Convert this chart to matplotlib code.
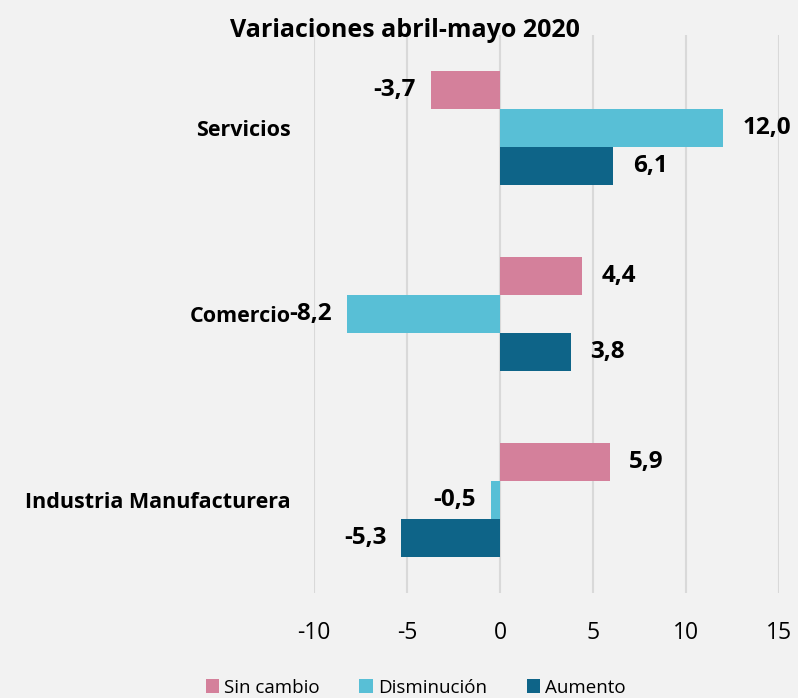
import matplotlib.pyplot as plt
import numpy as np

# Data
categories = ["Servicios", "Comercio", "Industria Manufacturera"]
series_names = ["Sin cambio", "Disminución", "Aumento"]
sin_cambio = [-3.7, 4.4, 5.9]
disminucion = [12.0, -8.2, -0.5]
aumento = [6.1, 3.8, -5.3]
x_ticks = [-10, -5, 0, 5, 10, 15]

colors = ["#d4809b", "#58bfd6", "#0e6488"]
bg = "#f2f2f2"

plt.rcParams["font.family"] = ["Open Sans", "DejaVu Sans"]

fig = plt.figure(figsize=(7.98, 6.98), dpi=100, facecolor=bg)
ax = fig.add_axes([314 / 798, 1 - 593 / 698, 465 / 798, 558 / 698])
ax.set_facecolor(bg)

y = np.arange(len(categories))
h = 0.205
offsets = [-h, 0, h]
for vals, name, col, off in zip(
    [sin_cambio, disminucion, aumento], series_names, colors, offsets
):
    bars = ax.barh(y + off, vals, height=h, color=col, label=name, zorder=2)
    for b, v in zip(bars, vals):
        txt = f"{v:.1f}".replace(".", ",")
        if v >= 0:
            ax.annotate(txt, (v, b.get_y() + h / 2), xytext=(14, 0),
                        textcoords="offset points", ha="left", va="center",
                        fontsize=17.5, fontweight="bold", zorder=3)
        else:
            ax.annotate(txt, (v, b.get_y() + h / 2), xytext=(-11, 0),
                        textcoords="offset points", ha="right", va="center",
                        fontsize=17.5, fontweight="bold", zorder=3)

ax.set_xlim(-10, 15)
ax.set_ylim(2.5, -0.5)
ax.set_xticks(x_ticks)
ax.set_xticklabels([str(t) for t in x_ticks], fontsize=16.5)
ax.set_yticks(y)
ax.set_yticklabels(categories, fontsize=15.5, fontweight="bold")
ax.tick_params(axis="y", length=0, pad=17)
ax.tick_params(axis="x", length=0, pad=20)
ax.grid(axis="x", color="#d9d9d9", linewidth=1.5, zorder=0)
for s in ax.spines.values():
    s.set_visible(False)

fig.text(0.508, 0.957, "Variaciones abril-mayo 2020", ha="center", va="center",
         fontsize=18, fontweight="bold")

fig.legend(loc="center", bbox_to_anchor=(0.521, 0.015), ncol=3, frameon=False,
           fontsize=13.5, handlelength=0.7, handleheight=0.7, handletextpad=0.3,
           columnspacing=2.1)

fig.savefig("out.png", dpi=100, facecolor=bg)
